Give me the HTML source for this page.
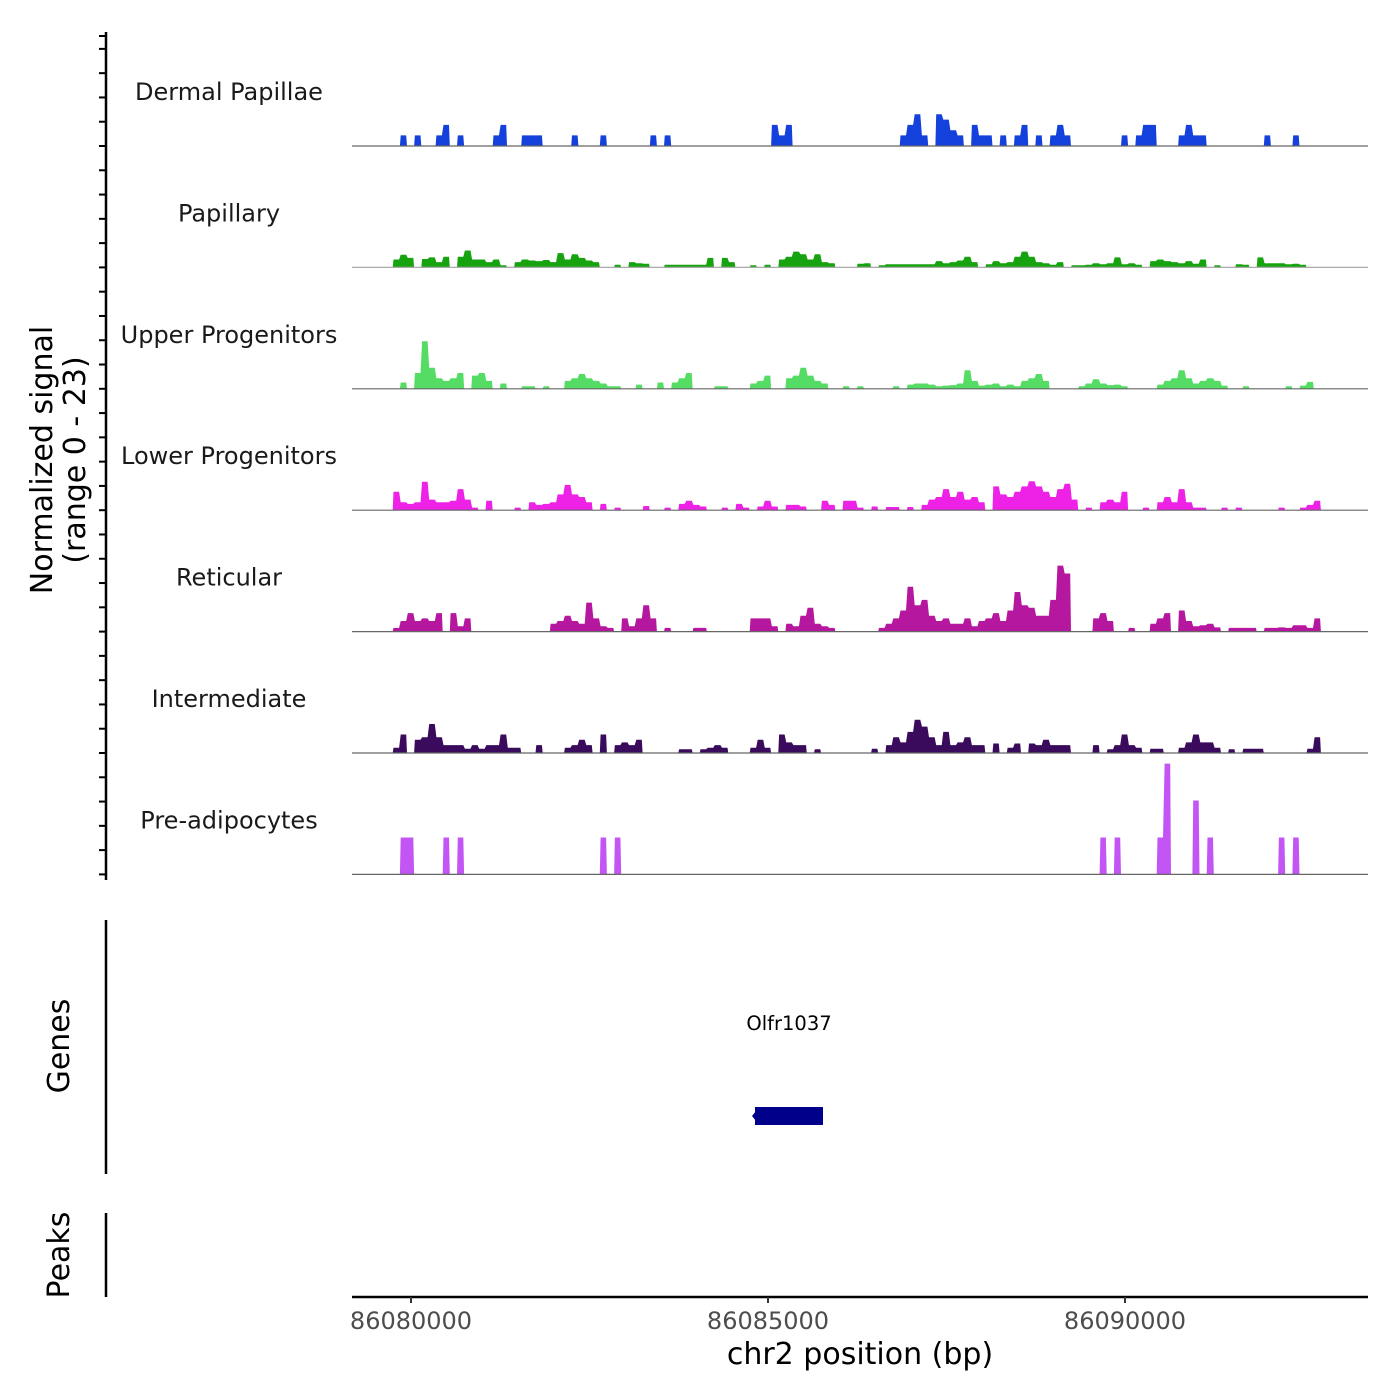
<!DOCTYPE html>
<html><head><meta charset="utf-8">
<style>
html,body{margin:0;padding:0;background:#fff;}
svg{display:block;font-family:"DejaVu Sans","Liberation Sans",sans-serif;}
</style></head>
<body>
<svg id="chart" width="1400" height="1400" viewBox="0 0 1400 1400" xmlns="http://www.w3.org/2000/svg">
<rect width="1400" height="1400" fill="#fff"/>
<g id="tracks"></g>
<g id="yaxis">
  <line x1="106" y1="32" x2="106" y2="880" stroke="#000" stroke-width="2.5"/>
</g>
<text transform="translate(52,460) rotate(-90)" text-anchor="middle" font-size="30" fill="#000">Normalized signal</text>
<text transform="translate(85,460) rotate(-90)" text-anchor="middle" font-size="30" fill="#000">(range 0 - 23)</text>

<g>
  <line x1="106" y1="920" x2="106" y2="1174" stroke="#000" stroke-width="2.5"/>
  <text transform="translate(69,1046) rotate(-90)" text-anchor="middle" font-size="30" fill="#000">Genes</text>
  <text x="789" y="1030" text-anchor="middle" font-size="19.5" fill="#000">Olfr1037</text>
  <rect x="755" y="1107" width="68" height="18" fill="#00008b"/>
  <polygon points="752,1116 756,1111 756,1121" fill="#00008b"/>
</g>
<g>
  <line x1="106" y1="1213" x2="106" y2="1297" stroke="#000" stroke-width="2.5"/>
  <text transform="translate(69,1255) rotate(-90)" text-anchor="middle" font-size="30" fill="#000">Peaks</text>
</g>
<g id="xaxis">
  <line x1="352" y1="1297" x2="1368" y2="1297" stroke="#000" stroke-width="2.5"/>
</g>
<text x="860" y="1364" text-anchor="middle" font-size="30" fill="#000">chr2 position (bp)</text>
</svg>
<script>
// ---- data: [bin index (100bp bins from binStartBp), signal] ----
const binStartBp = 86079744;
const binSizeBp = 100;
const trackNames = ["Dermal Papillae","Papillary","Upper Progenitors","Lower Progenitors","Reticular","Intermediate","Pre-adipocytes"];
const trackColors = ["#1440dc","#17a30f","#55dc64","#ee22e6","#b5179e","#3a0a5c","#c355f5"];
const dermalPapillae = [[1,2],[3,2],[6,2],[7,4],[9,2],[14,2],[15,4],[18,2],[19,2],[20,2],[25,2],[29,2],[36,2],[38,2],[53,4],[54,2],[55,4],[71,2],[72,4],[73,6],[74,2],[76,6],[77,5],[78,3],[79,2],[81,4],[82,2],[83,2],[85,2],[87,2],[88,4],[90,2],[92,2],[93,4],[94,2],[102,2],[104,2],[105,4],[106,4],[110,2],[111,4],[112,2],[113,2],[122,2],[126,2]];
const papillary = [[0,1.5],[1,2.4],[2,1.8],[4,1.6],[5,1.9],[6,1],[7,2],[9,2],[10,3.2],[11,1.5],[12,1.5],[13,1],[14,1.5],[15,0.4],[17,1],[18,1.5],[19,1.3],[20,1.2],[21,1.4],[22,1],[23,2.7],[24,1.5],[25,2.5],[26,1.8],[27,1.3],[28,1],[31,0.5],[33,1],[34,0.8],[35,0.7],[38,0.5],[39,0.5],[40,0.5],[41,0.5],[42,0.5],[43,0.5],[44,1.8],[46,1.8],[47,1],[50,0.4],[52,0.5],[54,1.5],[55,2],[56,3],[57,2.5],[58,1.5],[59,2.5],[60,1],[61,0.8],[65,0.7],[66,0.8],[68,0.4],[69,0.6],[70,0.6],[71,0.6],[72,0.6],[73,0.6],[74,0.6],[75,0.6],[76,1.2],[77,0.8],[78,1],[79,1.3],[80,2],[81,1],[83,0.6],[84,1.2],[85,0.8],[86,1],[87,2],[88,3],[89,2],[90,1],[91,0.8],[92,0.5],[93,1],[95,0.4],[96,0.4],[97,0.5],[98,0.8],[99,0.6],[100,0.8],[101,1.9],[102,0.6],[103,0.8],[104,0.5],[106,1.2],[107,1.5],[108,1.2],[109,1],[110,0.8],[111,1.2],[112,0.7],[113,1.5],[115,0.4],[118,0.6],[119,0.5],[121,1.9],[122,0.8],[123,0.8],[124,0.8],[125,0.6],[126,0.7],[127,0.5]];
const upperProgenitors = [[1,1.2],[3,3],[4,9],[5,4],[6,2],[7,1.5],[8,2],[9,3],[11,2.5],[12,3],[13,1.5],[15,1],[18,0.5],[19,0.5],[21,0.5],[24,1.5],[25,2],[26,2.8],[27,2],[28,1.5],[29,1],[30,0.5],[31,0.5],[34,0.8],[37,1.2],[39,1.2],[40,2],[41,3],[45,0.5],[46,0.5],[50,1],[51,1.5],[52,2.5],[55,2],[56,2.5],[57,4],[58,2.5],[59,1.5],[60,1],[63,0.5],[65,0.5],[70,0.5],[72,0.8],[73,1],[74,1],[75,0.8],[76,0.5],[77,0.6],[78,0.7],[79,1],[80,3.5],[81,1.5],[82,0.6],[83,0.8],[84,1],[85,0.5],[86,0.8],[87,0.5],[88,1.5],[89,2],[90,2.8],[91,1.5],[96,0.5],[97,1],[98,1.8],[99,1],[100,0.7],[101,0.8],[102,0.5],[107,0.8],[108,1.5],[109,2],[110,3.5],[111,2],[112,1],[113,1.5],[114,2],[115,1.5],[116,0.6],[119,0.5],[125,0.5],[127,0.6],[128,1.3]];
const lowerProgenitors = [[0,3.5],[1,1.5],[2,1.2],[3,1.5],[4,5.4],[5,2],[6,1.5],[7,1.5],[8,1.8],[9,4],[10,2],[11,0.5],[13,1.8],[17,0.5],[19,1.5],[20,1],[21,1.2],[22,1.5],[23,3],[24,4.8],[25,3],[26,2.5],[27,1.5],[29,1.2],[31,0.5],[35,0.8],[38,0.5],[40,1.2],[41,1.8],[42,1],[43,0.7],[46,0.5],[48,1.2],[49,0.5],[51,0.7],[52,1.8],[53,0.7],[55,1],[56,1],[57,0.7],[60,1.8],[61,1],[63,1.8],[64,1.8],[65,0.5],[67,0.7],[69,0.6],[70,0.6],[72,0.6],[74,1],[75,2],[76,2.5],[77,4],[78,2.5],[79,3.5],[80,2],[81,2.5],[82,1.5],[84,4.5],[85,3],[86,2.5],[87,3.5],[88,4.5],[89,5.5],[90,4.5],[91,3.5],[92,2.5],[93,4],[94,5],[95,2],[97,0.5],[99,1.5],[100,2],[101,1.5],[102,3.5],[105,0.5],[107,1.5],[108,2.5],[109,1.5],[110,4],[111,1.5],[112,0.5],[113,0.5],[116,0.5],[118,0.5],[124,0.5],[127,0.5],[128,1],[129,1.8]];
const reticular = [[0,0.7],[1,2],[2,3.5],[3,2],[4,2.5],[5,2],[6,3.5],[8,3.5],[9,1],[10,2.5],[22,1.5],[23,2],[24,3],[25,2],[26,1.5],[27,5.5],[28,2.5],[29,1],[30,0.7],[32,2.5],[33,1],[34,2.5],[35,5],[36,2.5],[38,0.7],[42,0.7],[43,0.7],[50,2.5],[51,2.5],[52,2.5],[53,1],[55,1.5],[56,1],[57,3],[58,4.5],[59,1.5],[60,1],[61,0.7],[68,0.7],[69,1.5],[70,2.5],[71,4],[72,8.5],[73,5],[74,6],[75,3],[76,2],[77,2.5],[78,1.5],[79,1.5],[80,2.5],[81,1],[82,2],[83,2.5],[84,3.5],[85,2],[86,4],[87,7.5],[88,5],[89,4.5],[90,3],[91,3],[92,6],[93,12.5],[94,11],[98,2.5],[99,3.5],[100,2],[103,0.7],[106,1.5],[107,2.5],[108,3.5],[110,4],[111,2],[112,1],[113,1.2],[114,1.5],[115,0.8],[117,0.7],[118,0.7],[119,0.7],[120,0.7],[122,0.7],[123,0.7],[124,0.8],[125,0.7],[126,1.2],[127,1.2],[128,0.7],[129,2.5]];
const intermediate = [[0,1],[1,3.5],[3,2.5],[4,3],[5,5.5],[6,3],[7,1.5],[8,1.5],[9,1.5],[10,0.8],[11,1.5],[12,0.8],[13,1.5],[14,1.5],[15,3.5],[16,1],[17,1],[20,1.5],[24,1],[25,1.5],[26,2.5],[27,1.5],[29,3.5],[31,1.5],[32,2],[33,1.5],[34,2.5],[40,0.7],[41,0.7],[43,0.7],[44,1],[45,1.5],[46,1],[50,1],[51,2.5],[52,1],[54,3.5],[55,2],[56,1.5],[57,1.5],[59,0.7],[67,0.8],[69,1.5],[70,3],[71,2],[72,4],[73,6.3],[74,5],[75,3],[76,1.5],[77,4],[78,1.5],[79,2],[80,3],[81,1.5],[82,1.5],[84,1.8],[86,1],[87,1.8],[89,1.8],[90,1.5],[91,2.5],[92,1.5],[93,1.5],[94,1.5],[98,1.5],[100,0.7],[101,1.5],[102,3.5],[103,1.5],[104,1],[106,0.8],[107,0.8],[110,1],[111,2],[112,3.5],[113,2],[114,2],[115,1],[117,0.7],[119,0.8],[120,0.8],[121,0.8],[128,0.8],[129,3]];
const preAdipocytes = [[1,7],[2,7],[7,7],[9,7],[29,7],[31,7],[99,7],[101,7],[107,7],[108,21],[112,14],[114,7],[124,7],[126,7]];
const trackData = [dermalPapillae,papillary,upperProgenitors,lowerProgenitors,reticular,intermediate,preAdipocytes];
const xTickValues = [86080000,86085000,86090000];
const xTickLabels = ["86080000","86085000","86090000"];
const signalMax = 23;

// ---- scales ----
const NS = "http://www.w3.org/2000/svg";
const pxPerBp = (1125 - 411) / 10000;
function xScale(bp){ return 411 + (bp - 86080000) * pxPerBp; }
const trackHeight = 121.4;
const firstBaseline = 146;
function baseline(t){ return firstBaseline + t * trackHeight; }
function yScale(t, v){ return baseline(t) - v / signalMax * trackHeight; }

const tracksG = document.getElementById("tracks");
trackData.forEach(function(data, t){
  const g = document.createElementNS(NS, "g");
  
  
  tracksG.appendChild(g);
  const sorted = data.slice().sort(function(a,b){return a[0]-b[0];});
  const b0 = baseline(t);
  let pts = [];
  let prevBin = -10;
  sorted.forEach(function(d){
    const x0 = xScale(binStartBp + d[0]*binSizeBp);
    const x1 = xScale(binStartBp + (d[0]+1)*binSizeBp);
    const y = yScale(t, d[1]);
    if (d[0] !== prevBin + 1) { pts.push([x0, b0]); }
    pts.push([x0 + 0.8, y]); pts.push([x1 - 0.8, y]);
    const next = sorted.find(function(e){return e[0] === d[0]+1;});
    if (!next) { pts.push([x1, b0]); }
    prevBin = d[0];
  });
  const poly = document.createElementNS(NS, "polygon");
  
  
  poly.setAttribute("points", pts.map(function(p){return p[0].toFixed(1)+","+p[1].toFixed(1);}).join(" "));
  poly.setAttribute("fill", trackColors[t]);
  g.appendChild(poly);
  const ln = document.createElementNS(NS, "line");
  
  
  ln.setAttribute("x1", 352); ln.setAttribute("x2", 1368);
  ln.setAttribute("y1", b0); ln.setAttribute("y2", b0);
  ln.setAttribute("stroke", t === 1 ? "#aaaaaa" : "#666666");
  ln.setAttribute("stroke-width", 1.2);
  g.appendChild(ln);
  const lab = document.createElementNS(NS, "text");
  
  
  lab.setAttribute("x", 229); lab.setAttribute("y", b0 - 46);
  lab.setAttribute("text-anchor", "middle");
  lab.setAttribute("font-size", "24");
  lab.setAttribute("fill", "#1a1a1a");
  lab.textContent = trackNames[t];
  g.appendChild(lab);
});

// y ticks
const yAxisG = document.getElementById("yaxis");
for (let t = 0; t < trackData.length; t++) {
  for (let k = 0; k < 5; k++) {
    const y = baseline(t) - k * trackHeight / 5;
    const tk = document.createElementNS(NS, "line");
    
    
    tk.setAttribute("x1", 99); tk.setAttribute("x2", 106);
    tk.setAttribute("y1", y); tk.setAttribute("y2", y);
    tk.setAttribute("stroke", "#000"); tk.setAttribute("stroke-width", 2);
    yAxisG.appendChild(tk);
  }
}
const topTick = document.createElementNS(NS, "line");


topTick.setAttribute("x1", 99); topTick.setAttribute("x2", 106);
topTick.setAttribute("y1", 36); topTick.setAttribute("y2", 36);
topTick.setAttribute("stroke", "#000"); topTick.setAttribute("stroke-width", 2);
yAxisG.appendChild(topTick);

// x ticks
const xAxisG = document.getElementById("xaxis");
xTickValues.forEach(function(v, i){
  const x = xScale(v);
  const tk = document.createElementNS(NS, "line");
  
  
  tk.setAttribute("x1", x); tk.setAttribute("x2", x);
  tk.setAttribute("y1", 1297); tk.setAttribute("y2", 1303);
  tk.setAttribute("stroke", "#333"); tk.setAttribute("stroke-width", 2);
  xAxisG.appendChild(tk);
  const lb = document.createElementNS(NS, "text");
  
  
  lb.setAttribute("x", x); lb.setAttribute("y", 1329);
  lb.setAttribute("text-anchor", "middle");
  lb.setAttribute("font-size", "24");
  lb.setAttribute("fill", "#4d4d4d");
  lb.textContent = xTickLabels[i];
  xAxisG.appendChild(lb);
});
</script>
</body></html>
